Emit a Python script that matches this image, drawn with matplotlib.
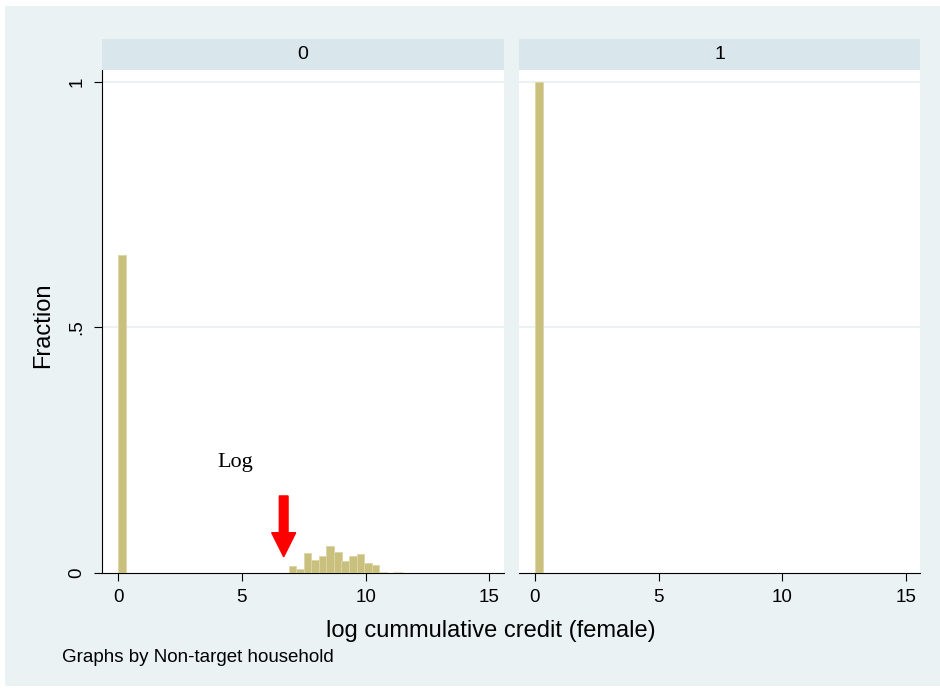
import matplotlib
matplotlib.use("Agg")
import matplotlib.pyplot as plt
import matplotlib.patches as mpatches

# Histogram data (fraction per bin), panels by "Non-target household"
panel_labels = ["0", "1"]

# panel 0: spike at 0 plus a cluster of positive log values
p0_left = [0.0, 6.89, 7.19, 7.50, 7.80, 8.11, 8.41, 8.72, 9.02, 9.33,
           9.63, 9.94, 10.24, 10.55, 10.85, 11.16]
p0_frac = [0.646, 0.014, 0.008, 0.041, 0.027, 0.034, 0.055, 0.043, 0.024,
           0.034, 0.039, 0.020, 0.017, 0.002, 0.001, 0.002]

# panel 1: everything at 0
p1_left = [0.0]
p1_frac = [1.0]

x_ticks = [0, 5, 10, 15]
y_ticks = [0, 0.5, 1]
y_ticklabels = ["0", ".5", "1"]

BIN_W = 0.31
BG = "#EAF2F3"
STRIP = "#D9E6EB"
BAR_FILL = "#C9C07E"
BAR_EDGE = "#DCD5A6"

plt.rcParams["font.family"] = ["Liberation Sans", "DejaVu Sans"]

fig = plt.figure(figsize=(9.4, 6.88), dpi=100)
fig.patch.set_facecolor("white")
# light graph region with thin white border on top/left
fig.add_artist(mpatches.Rectangle((5 / 940, 2 / 688), 1, 1 - 8 / 688,
                                  transform=fig.transFigure,
                                  facecolor=BG, edgecolor="none", zorder=-10))

W, H = 940, 688
ax_bottom = 1 - 573 / H
ax_height = (573 - 70) / H
panel_x = [(102, 503.6), (519, 920)]
data = [(p0_left, p0_frac), (p1_left, p1_frac)]

axes = []
for i, ((x0, x1), (lefts, fracs)) in enumerate(zip(panel_x, data)):
    ax = fig.add_axes([x0 / W, ax_bottom, (x1 - x0) / W, ax_height])
    ax.set_facecolor("white")
    ax.bar(lefts, fracs, width=BIN_W, align="edge", color=BAR_FILL,
           edgecolor=BAR_EDGE, linewidth=0.6, zorder=3)
    ax.set_xlim(-0.647, 15.57)
    ax.set_ylim(0, 1.0234)
    for yv in (0.5, 1.0):
        ax.axhline(yv, color=BG, linewidth=1.5, zorder=1)
    ax.set_xticks(x_ticks)
    ax.set_xticklabels([str(t) for t in x_ticks])
    ax.tick_params(axis="x", length=5.5, width=0.8, pad=6, labelsize=13.5)
    for s in ("top", "right"):
        ax.spines[s].set_visible(False)
    ax.spines["bottom"].set_linewidth(0.8)
    if i == 0:
        ax.set_yticks(y_ticks)
        ax.set_yticklabels(y_ticklabels, rotation=90, va="center")
        ax.tick_params(axis="y", length=6, width=0.8, pad=6, labelsize=13.5)
        ax.spines["left"].set_linewidth(0.8)
    else:
        ax.set_yticks([])
        ax.spines["left"].set_visible(False)

    # strip title
    sax = fig.add_axes([x0 / W, 1 - 70 / H, (x1 - x0) / W, 31 / H])
    sax.set_facecolor(STRIP)
    sax.set_xticks([])
    sax.set_yticks([])
    for s in sax.spines.values():
        s.set_visible(False)
    sax.text(0.5, 0.5, panel_labels[i], ha="center", va="center",
             fontsize=14, transform=sax.transAxes)
    axes.append(ax)

# annotation on panel 0
ax0 = axes[0]
ax0.text(4.75, 0.225, "Log", family=["Liberation Serif", "DejaVu Serif"],
         fontsize=16, ha="center", va="center")
ax0.add_patch(mpatches.FancyArrow(6.69, 0.1568, 0, -0.1238, width=0.352,
                                  head_width=0.97, head_length=0.049,
                                  length_includes_head=True,
                                  color="#FF0000", zorder=5))

fig.text(43 / W, 1 - 325 / H, "Fraction", rotation=90, fontsize=17,
         ha="center", va="center")
fig.text(491 / W, 1 - 631 / H, "log cummulative credit (female)",
         fontsize=17, ha="center", va="center")
fig.text(62 / W, 1 - 657 / H, "Graphs by Non-target household",
         fontsize=13.5, ha="left", va="center")

fig.savefig("out.png", dpi=100, facecolor=fig.get_facecolor())
